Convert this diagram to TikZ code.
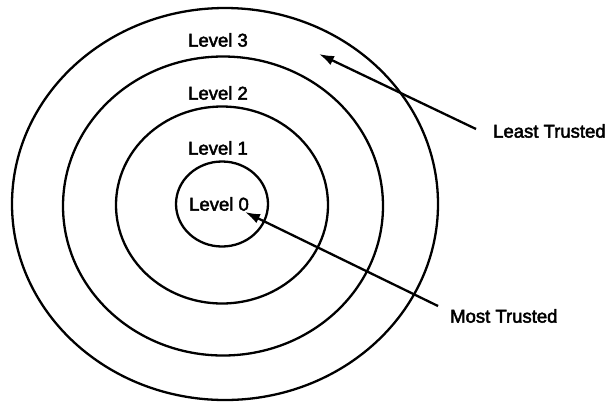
\documentclass[tikz,border=0pt]{standalone}
\usepackage{fontspec}
\setmainfont{Liberation Sans}
\newfontfamily\lblfont[BoldFont={Liberation Sans}, BoldFeatures={FakeBold=2.5}]{Liberation Sans}
\usetikzlibrary{shapes.geometric,arrows.meta}
\begin{document}
\begin{tikzpicture}[x=1pt,y=-1pt,
  ring/.style={draw, ellipse, line width=2.3pt, inner sep=0pt, outer sep=0pt},
  lbl/.style={font=\lblfont\bfseries\fontsize{18.5}{21}\selectfont, inner sep=0pt},
  pointer/.style={line width=2.3pt, -{Latex[length=15pt,width=10pt]}}]
\useasboundingbox (0,0) rectangle (609,402);
\node[ring, minimum width=426pt, minimum height=392pt] (r3) at (225,204) {};
\node[ring, minimum width=320pt, minimum height=299pt] (r2) at (223,206) {};
\node[ring, minimum width=212pt, minimum height=197pt] (r1) at (222,205) {};
\node[ring, minimum width=92pt, minimum height=85pt] (r0) at (222,204) {};
\node[lbl] (l3) at (218,40) {Level 3};
\node[lbl] (l2) at (218,93) {Level 2};
\node[lbl] (l1) at (218,148) {Level 1};
\node[lbl] (l0) at (219,204) {Level 0};
\node[lbl, anchor=west] (lt) at (493,131) {Least Trusted};
\node[lbl, anchor=west] (mt) at (450,316) {Most Trusted};
\coordinate (lttail) at (476,129);
\coordinate (lttip) at (319,54);
\coordinate (mttail) at (438,306);
\coordinate (mttip) at (245,212);
\draw[pointer] (lttail) -- (lttip);
\draw[pointer] (mttail) -- (mttip);
\end{tikzpicture}
\end{document}
